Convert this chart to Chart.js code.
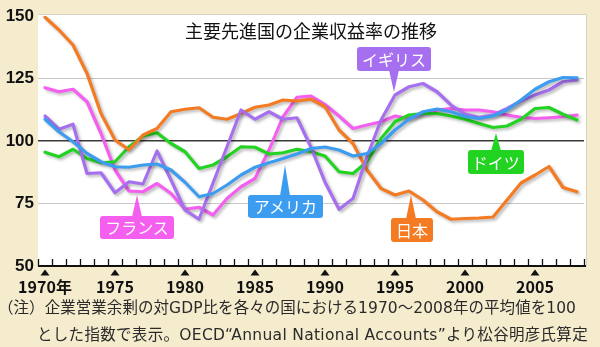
<!DOCTYPE html>
<html lang="ja">
<head>
<meta charset="utf-8">
<title>主要先進国の企業収益率の推移</title>
<script src="https://cdn.jsdelivr.net/npm/chart.js@4.4.1/dist/chart.umd.min.js"></script>
<style>
  html, body { margin: 0; padding: 0; background: #f5ecce; }
  #wrap {
    position: relative; width: 600px; height: 347px; overflow: hidden;
    background: #f5ecce; font-family: "Noto Sans CJK JP", sans-serif;
  }
  #grafico { position: absolute; left: 0; top: 0; }
  .titulo {
    position: absolute; left: 38px; width: 546px; top: 19px;
    text-align: center; font-size: 18px; line-height: 22px; color: #111;
  }
  .nota {
    position: absolute; white-space: nowrap; font-size: 15.5px; line-height: 20px; color: #2a2a2a;
    font-family: "DejaVu Sans", "Noto Sans CJK JP", sans-serif;
  }
  .balao {
    position: absolute; color: #fff; font-size: 16px; text-align: center;
    border-radius: 3px; white-space: nowrap;
  }
  .seta { position: absolute; width: 0; height: 0; }
</style>
</head>
<body>
<div id="wrap">
  <canvas id="grafico" width="600" height="347"></canvas>
  <div class="titulo">主要先進国の企業収益率の推移</div>
  <div class="nota" id="nota1" style="left:-2px; top:298px;">（注）企業営業余剰の対GDP比を各々の国における1970～2008年の平均値を100</div>
  <div class="nota" id="nota2" style="left:37px; top:325px;">とした指数で表示。OECD“Annual National Accounts”より松谷明彦氏算定</div>
</div>
<script>
// ==============================
// DADOS
// ==============================
const YEARS = [1970, 1971, 1972, 1973, 1974, 1975, 1976, 1977, 1978, 1979,
               1980, 1981, 1982, 1983, 1984, 1985, 1986, 1987, 1988, 1989,
               1990, 1991, 1992, 1993, 1994, 1995, 1996, 1997, 1998, 1999,
               2000, 2001, 2002, 2003, 2004, 2005, 2006, 2007, 2008];

const JAPAN = [149.5, 144.4, 138.4, 127.0, 111.0, 100.4, 96.5, 102.4, 105.0, 111.7,
               112.7, 113.3, 109.5, 108.7, 111.0, 113.5, 114.4, 116.4, 116.0, 116.7,
               113.7, 104.4, 99.0, 88.4, 81.0, 78.4, 80.0, 76.4, 71.7, 68.7,
               69.0, 69.2, 69.6, 76.4, 83.2, 86.4, 89.8, 81.4, 79.7];

const FRANCE = [121.3, 119.7, 120.7, 115.7, 103.0, 88.4, 80.0, 79.7, 83.0, 79.0,
                72.7, 73.5, 70.4, 77.0, 81.7, 85.0, 96.4, 109.7, 117.5, 118.0,
                114.6, 110.0, 105.0, 106.4, 107.7, 110.0, 109.0, 111.0, 112.4, 113.0,
                112.4, 112.4, 111.7, 110.4, 109.5, 109.0, 109.3, 109.7, 110.4];

const UK = [110.0, 104.7, 106.7, 87.0, 87.3, 79.3, 83.7, 82.8, 96.0, 84.4,
            72.4, 68.7, 83.2, 97.7, 112.4, 108.7, 111.7, 108.7, 109.3, 97.5,
            83.5, 72.7, 77.0, 93.7, 108.4, 118.4, 121.7, 123.0, 119.7, 114.4,
            110.8, 109.5, 110.4, 113.0, 116.0, 118.4, 120.4, 123.7, 124.4];

const USA = [108.7, 103.7, 99.7, 95.0, 91.7, 89.7, 89.5, 90.4, 90.8, 88.4,
             83.5, 77.7, 79.0, 82.4, 86.4, 89.5, 91.3, 93.0, 94.8, 97.0,
             97.6, 96.4, 94.0, 95.0, 99.0, 104.4, 108.7, 111.7, 112.8, 111.7,
             109.8, 109.0, 110.0, 112.4, 116.4, 120.7, 123.7, 125.4, 125.3];

const GERMANY = [95.5, 93.7, 96.7, 93.0, 91.3, 91.7, 97.7, 102.0, 103.3, 99.0,
                 95.7, 89.0, 90.4, 93.7, 97.7, 97.5, 94.8, 95.3, 96.7, 95.7,
                 94.0, 87.7, 87.0, 91.7, 101.0, 107.7, 110.4, 111.0, 111.0, 110.0,
                 108.7, 107.0, 105.4, 106.0, 108.7, 113.0, 113.4, 110.7, 108.4];

const X_TICKS = [1970, 1975, 1980, 1985, 1990, 1995, 2000, 2005];
const Y_TICKS = [50, 75, 100, 125, 150];

const COR = {
  japan: "#f47b22",
  france: "#f55ff0",
  uk: "#a66ff0",
  usa: "#3c9df0",
  germany: "#22d322"
};

// rótulos: ponta da seta em (ano, valor), caixa relativa à ponta
const BALOES = [
  { texto: "イギリス", cor: COR.uk,      ano: 1994.93, valor: 119.6, dir: "baixo", dx: -37, w: 74, h: 24, gap: 21 },
  { texto: "ドイツ",   cor: COR.germany, ano: 2002.2,  valor: 103.2, dir: "cima",  dx: -28, w: 56, h: 24, gap: 17 },
  { texto: "日本",     cor: COR.japan,   ano: 1996.14, valor: 78.4,  dir: "cima",  dx: -20, w: 42, h: 24, gap: 23 },
  { texto: "アメリカ", cor: COR.usa,     ano: 1987.14, valor: 90.4,  dir: "cima",  dx: -37, w: 75, h: 23, gap: 30 },
  { texto: "フランス", cor: COR.france,  ano: 1976.57, valor: 78.4,  dir: "cima",  dx: -37, w: 74, h: 23, gap: 21 }
];

// larguras da nota de rodapé no original
const NOTA_LARGURA = { nota1: 578, nota2: 551 };

const $ = (id) => document.getElementById(id);
const pontos = (vals) => YEARS.map((a, i) => ({ x: a, y: vals[i] }));

function serie(label, vals, cor){
  return {
    label,
    data: pontos(vals),
    borderColor: cor,
    backgroundColor: cor,
    borderWidth: 3.2,
    pointRadius: 0,
    tension: 0,
    borderJoinStyle: "round",
    borderCapStyle: "round"
  };
}

// ajusta o espaçamento das letras para a nota ocupar a mesma largura
function ajustarNota(id){
  const el = $(id);
  const alvo = NOTA_LARGURA[id];
  const n = el.textContent.length;
  const atual = el.getBoundingClientRect().width;
  el.style.letterSpacing = `${(alvo - atual) / n}px`;
}

// ==============================
// PLUGINS
// ==============================
const fundoPlugin = {
  id: "fundo",
  beforeDraw(chart){
    const { ctx, chartArea: a } = chart;
    ctx.save();
    ctx.fillStyle = "#fff";
    ctx.fillRect(a.left, a.top - 1, a.right - a.left + 2, a.bottom - a.top + 1);
    ctx.strokeStyle = "#d9d2bc";
    ctx.lineWidth = 1;
    ctx.beginPath();
    ctx.moveTo(a.left, a.top - 1.5);
    ctx.lineTo(a.right + 2.5, a.top - 1.5);
    ctx.lineTo(a.right + 2.5, a.bottom);
    ctx.stroke();
    ctx.restore();
  }
};

const sombraPlugin = {
  id: "sombra",
  beforeDatasetDraw(chart){
    const c = chart.ctx;
    c.save();
    c.shadowColor = "rgba(0,0,0,.28)";
    c.shadowBlur = 3;
    c.shadowOffsetX = 2;
    c.shadowOffsetY = 2;
  },
  afterDatasetDraw(chart){
    chart.ctx.restore();
  }
};

const eixoPlugin = {
  id: "eixo",
  afterDraw(chart){
    const { ctx, chartArea: a, scales: { x } } = chart;
    ctx.save();
    // linha do eixo
    ctx.strokeStyle = "#111";
    ctx.lineWidth = 2;
    ctx.beginPath();
    ctx.moveTo(a.left, a.bottom);
    ctx.lineTo(a.right + 2, a.bottom);
    ctx.stroke();
    // marcas de cada ano
    ctx.lineWidth = 1.3;
    for (let v = x.min; v <= x.max + 0.001; v += 1) {
      const px = Math.round(x.getPixelForValue(v)) + 0.5;
      ctx.beginPath();
      ctx.moveTo(px, a.bottom);
      ctx.lineTo(px, a.bottom - 7);
      ctx.stroke();
    }
    // triângulos
    ctx.fillStyle = "#111";
    X_TICKS.forEach(v => {
      const px = x.getPixelForValue(v);
      ctx.beginPath();
      ctx.moveTo(px - 4.5, a.bottom + 9.5);
      ctx.lineTo(px + 4.5, a.bottom + 9.5);
      ctx.lineTo(px, a.bottom + 3.5);
      ctx.closePath();
      ctx.fill();
    });
    ctx.restore();
  }
};

const baloesPlugin = {
  id: "baloes",
  afterDraw(chart){
    const wrap = $("wrap");
    wrap.querySelectorAll(".balao, .seta").forEach(el => el.remove());
    const { x, y } = chart.scales;
    BALOES.forEach(b => {
      const tx = x.getPixelForValue(b.ano);
      const ty = y.getPixelForValue(b.valor);
      const top = b.dir === "baixo" ? ty - b.gap - b.h : ty + b.gap;

      const box = document.createElement("div");
      box.className = "balao";
      box.textContent = b.texto;
      box.style.background = b.cor;
      box.style.left = `${tx + b.dx}px`;
      box.style.top = `${top}px`;
      box.style.width = `${b.w}px`;
      box.style.height = `${b.h}px`;
      box.style.lineHeight = `${b.h}px`;

      const seta = document.createElement("div");
      seta.className = "seta";
      seta.style.left = `${tx - 5}px`;
      seta.style.borderLeft = "5px solid transparent";
      seta.style.borderRight = "5px solid transparent";
      if (b.dir === "baixo") {
        seta.style.top = `${ty - b.gap - 1}px`;
        seta.style.borderTop = `${b.gap + 1}px solid ${b.cor}`;
      } else {
        seta.style.top = `${ty}px`;
        seta.style.borderBottom = `${b.gap + 1}px solid ${b.cor}`;
      }
      wrap.appendChild(seta);
      wrap.appendChild(box);
    });
  }
};

// ==============================
// GRÁFICO
// ==============================
ajustarNota("nota1");
ajustarNota("nota2");

new Chart($("grafico"), {
  type: "line",
  data: {
    datasets: [
      serie("アメリカ", USA, COR.usa),
      serie("イギリス", UK, COR.uk),
      serie("日本", JAPAN, COR.japan),
      serie("ドイツ", GERMANY, COR.germany),
      serie("フランス", FRANCE, COR.france)
    ]
  },
  options: {
    responsive: false,
    animation: false,
    devicePixelRatio: 1,
    layout: { padding: { top: 16, right: 16, left: 0, bottom: 0 } },
    plugins: {
      legend: { display: false },
      tooltip: { enabled: false }
    },
    scales: {
      x: {
        type: "linear",
        min: 1969.5,
        max: 2008.5,
        afterBuildTicks: (s) => { s.ticks = X_TICKS.map(v => ({ value: v })); },
        afterFit: (s) => { s.height = 81; },
        grid: { display: false, drawTicks: false },
        border: { display: false },
        ticks: {
          autoSkip: false,
          maxRotation: 0,
          padding: 11,
          color: "#111",
          font: { family: "'Liberation Sans Narrow', 'Noto Sans CJK JP', sans-serif", size: 16, weight: "bold" },
          callback: (v) => v === 1970 ? "1970年" : String(v)
        }
      },
      y: {
        min: 50,
        max: 150,
        afterBuildTicks: (s) => { s.ticks = Y_TICKS.map(v => ({ value: v })); },
        afterFit: (s) => { s.width = 38; },
        border: { display: false },
        grid: {
          drawTicks: false,
          color: (c) => {
            const v = c.tick && c.tick.value;
            if (v === 100) return "#3a3a3a";
            if (v === 75 || v === 125) return "#c8c8c8";
            return "rgba(0,0,0,0)";
          },
          lineWidth: (c) => (c.tick && c.tick.value === 100) ? 1.5 : 1
        },
        ticks: {
          padding: 4,
          color: "#111",
          font: { family: "'Liberation Sans Narrow', sans-serif", size: 17, weight: "bold" }
        }
      }
    }
  },
  plugins: [fundoPlugin, sombraPlugin, eixoPlugin, baloesPlugin]
});
</script>
</body>
</html>
